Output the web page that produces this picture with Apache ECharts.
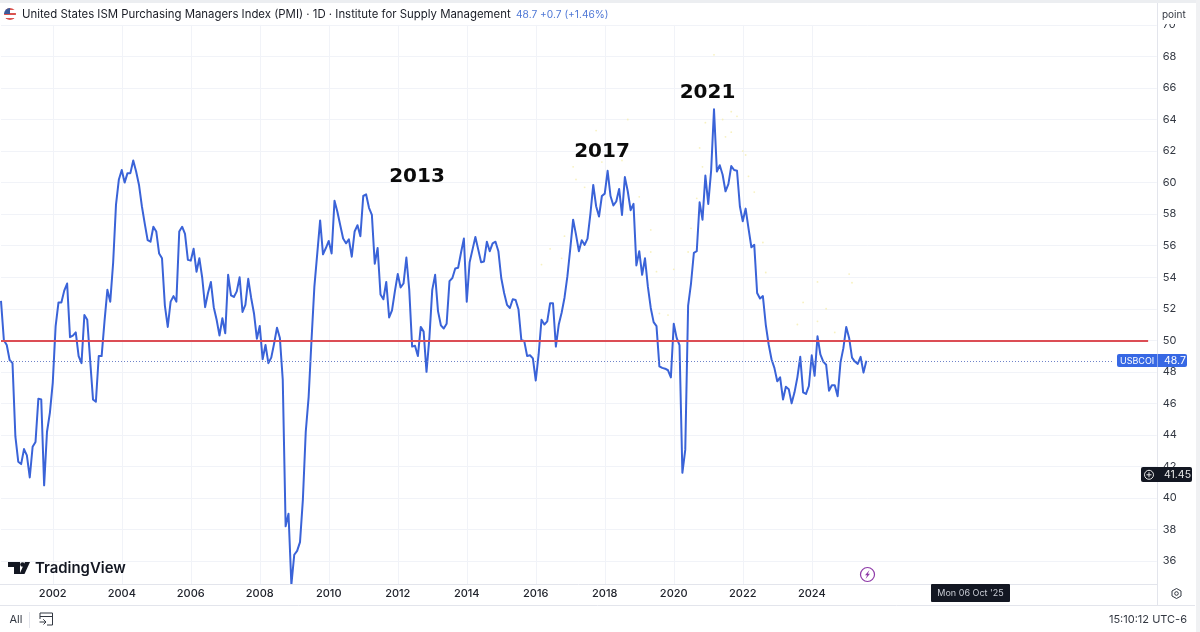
<!DOCTYPE html>
<html>
<head>
<meta charset="utf-8">
<title>United States ISM PMI</title>
<style>
  html, body { margin: 0; padding: 0; background: #fff; }
  #chart { width: 1200px; height: 632px; }
</style>
<script src="https://cdn.jsdelivr.net/npm/echarts@6/dist/echarts.min.js"></script>
</head>
<body>
<div id="chart"></div>
<script>
// monthly readings, first row starts Jul 2000
const pmiValues = [
  52.5, 50, 49.7, 48.75, 48.55, 43.9, 42.3, 42.15, 43.1, 42.7, 41.3, 43.25,
  43.55, 46.3, 46.25, 40.8, 44.2, 45.4, 47.3, 50.9, 52.4, 52.4, 53.15, 53.6,
  50.2, 50.3, 50.5, 49, 48.55, 51.6, 51.3, 48.75, 46.25, 46.1, 49, 49,
  51.2, 53.2, 52.45, 54.9, 58.6, 60.2, 60.8, 60, 60.6, 60.6, 61.4, 60.7,
  59.85, 58.5, 57.4, 56.35, 56.25, 57.2, 56.9, 55.5, 55.2, 52.2, 50.85, 52.45,
  52.8, 52.45, 56.9, 57.2, 56.75, 55.1, 55.05, 55.8, 54.35, 55.2, 53.95, 52.1,
  53, 53.7, 52.1, 51.3, 50.3, 51.4, 50.45, 54.15, 52.85, 52.75, 53.1, 54,
  51.8, 52.25, 53.9, 52.7, 51.7, 50.1, 50.9, 48.8, 49.7, 48.55, 48.9, 49.8,
  50.8, 50.15, 47.5, 38.2, 39, 34.5, 36.4, 36.65, 37.2, 39.9, 44.2, 46.4,
  50, 53.4, 55.5, 57.6, 55.45, 55.85, 56.3, 55.5, 58.85, 58.15, 57.3, 56.45,
  56.15, 56.4, 55.3, 56.9, 57.3, 56.6, 59.15, 59.25, 58.4, 57.95, 54.85, 55.85,
  52.9, 52.6, 53.7, 51.45, 51.9, 53.1, 54.2, 53.35, 53.6, 55.25, 53.2, 49.6,
  49.65, 49, 50.85, 50.55, 48, 50.15, 53.2, 54.15, 51.85, 50.95, 50.75, 51.05,
  53.75, 53.95, 54.55, 54.6, 55.55, 56.45, 52.45, 54.95, 55.75, 56.55, 55.75, 54.95,
  55, 56.25, 55.65, 56.15, 56.25, 55.65, 53.95, 53, 52.25, 52.05, 52.6, 52.55,
  51.95, 50, 49.95, 49, 49.05, 48.85, 47.45, 49.1, 51.3, 51, 51.2, 52.35,
  52.35, 49.6, 51, 51.75, 52.7, 54.05, 55.8, 57.65, 56.7, 55.65, 56.35, 56.05,
  56.45, 58, 59.85, 58.5, 57.85, 59.15, 59.3, 60.75, 59.15, 58.55, 58.8, 59.6,
  57.95, 60.35, 59.45, 58.25, 58.65, 54.75, 55.65, 54.15, 55.2, 53.4, 52.05, 51.15,
  50.9, 48.35, 48.25, 48.2, 48.1, 47.65, 51.05, 50.15, 49.7, 41.6, 43.05, 52.2,
  53.6, 55.55, 55.65, 58.75, 57.65, 60.45, 58.65, 60.75, 64.65, 60.7, 61.1, 60.5,
  59.45, 59.9, 61.05, 60.8, 60.75, 58.5, 57.55, 58.35, 57.1, 55.9, 56.05, 53,
  52.65, 52.8, 51, 49.75, 48.8, 48.25, 47.4, 47.65, 46.25, 47.05, 46.9, 46,
  46.7, 47.65, 48.95, 46.7, 46.6, 47.1, 49.05, 47.75, 50.25, 49.1, 48.65, 48.45,
  46.8, 47.15, 47.15, 46.45, 48.6, 49.5, 50.85, 50.15, 48.9, 48.65, 48.5, 48.95,
  47.95, 48.7
];

// faint pale dots around the peaks: [month index, value]
const faintDots = [
  [254, 64.5], [256, 64.2], [251, 64], [245, 63.8], [254, 63.2], [252, 62.9], [243, 62.2],
  [258, 62], [259, 61.75], [244, 61], [260, 60.4], [262, 59.4], [242, 59], [240, 57.1],
  [265, 56.2], [239, 55.6], [234, 54.5], [266, 54.3], [284, 53.7], [295, 54.2], [296, 53.65],
  [279, 52.4], [287, 52], [229, 51.7], [232, 51.6], [284, 51.2], [277, 51], [290, 50.5],
  [199, 61], [203, 59.7], [200, 60.2], [196, 56.6], [195, 55.2], [209, 61.3], [216, 61.4],
  [222, 59.1], [226, 57], [226, 55.6], [228, 54.35], [248, 68.1], [207, 63.3], [218, 64],
  [188, 54.8], [191, 55.8]
];

const referenceLevel = 50;
const lastValue = 48.7;
const lastMonthIndex = 399; // red level line stops here
const priceLineEnd = 387;   // dotted line stops at the USBCOI tag

const yTicks = { min: 34, max: 70, interval: 2 };
const totalMonths = 403;    // axis runs on past the last reading
const lastLabelYear = 2024;

const annotations = [
  { text: '2013', x: 417, y: 177 },
  { text: '2017', x: 602, y: 152 },
  { text: '2021', x: 707.5, y: 93 }
];

const titleText = 'United States ISM Purchasing Managers Index (PMI) · 1D · Institute for Supply Management';
const quoteText = '48.7 +0.7 (+1.46%)';

function buildMonths() {
  const out = [];
  let y = 2000, m = 7;
  for (let i = 0; i < totalMonths; i++) {
    out.push(y + '-' + String(m).padStart(2, '0'));
    m++;
    if (m > 12) { m = 1; y++; }
  }
  return out;
}

const months = buildMonths();
const FONT = 'Inter, "Liberation Sans", sans-serif';

function isEvenYearStart(idx, label) {
  const parts = label.split('-');
  const year = Number(parts[0]);
  return parts[1] === '01' && year % 2 === 0 && year <= lastLabelYear;
}

function chromeText(text, x, y, size, color, extra) {
  return {
    type: 'text',
    z: 20,
    silent: true,
    style: Object.assign({
      text, x, y,
      fontSize: size,
      fontFamily: FONT,
      fill: color,
      verticalAlign: 'middle'
    }, extra || {})
  };
}

function chromeRect(x, y, width, height, fill, z, r) {
  return { type: 'rect', z: z || 5, silent: true, shape: { x, y, width, height, r: r || 0 }, style: { fill } };
}

function hLine(y, x1, x2, color) {
  return { type: 'line', z: 6, silent: true, shape: { x1, y1: y, x2, y2: y }, style: { stroke: color || '#e3e5ec', lineWidth: 1 } };
}

function hLineWhite(y, x1, x2) {
  return { type: 'line', z: 9, silent: true, shape: { x1, y1: y, x2, y2: y }, style: { stroke: '#e8e8e8', lineWidth: 1 } };
}

function buildGraphics() {
  const g = [];

  // covers the part of the plot below the time axis line
  g.push(chromeRect(0, 584.5, 1200, 48, '#ffffff', 5));
  g.push(hLine(584.5, 0, 1157));
  g.push(hLine(605.5, 0, 1195));
  g.push({ type: 'line', z: 6, silent: true, shape: { x1: 1157.5, y1: 3, x2: 1157.5, y2: 605 }, style: { stroke: '#e3e5ec', lineWidth: 1 } });
  g.push(chromeRect(0, 0, 1200, 3, '#eceef1', 6));
  g.push(chromeRect(1196, 0, 4, 632, '#f0f1f3', 6));

  // header
  g.push(chromeRect(0, 3, 1157, 21, '#ffffff', 5));
  g.push({
    type: 'circle', z: 20, silent: true,
    shape: { cx: 10, cy: 14, r: 6 },
    style: {
      fill: {
        type: 'linear', x: 0, y: 0, x2: 0, y2: 1,
        colorStops: [
          { offset: 0, color: '#d9534f' }, { offset: 0.2, color: '#d9534f' },
          { offset: 0.2, color: '#ffffff' }, { offset: 0.4, color: '#ffffff' },
          { offset: 0.4, color: '#d9534f' }, { offset: 0.6, color: '#d9534f' },
          { offset: 0.6, color: '#ffffff' }, { offset: 0.8, color: '#ffffff' },
          { offset: 0.8, color: '#d9534f' }, { offset: 1, color: '#d9534f' }
        ]
      }
    }
  });
  g.push({ type: 'sector', z: 21, silent: true, shape: { cx: 10, cy: 14, r: 6, r0: 0, startAngle: Math.PI, endAngle: Math.PI * 1.5 }, style: { fill: '#3c5a9a' } });
  g.push(chromeText(titleText, 22, 14.5, 11.4, '#1a1d26'));
  g.push(chromeText(quoteText, 516, 14.5, 10.2, '#4f78d6'));

  // "point" scale button
  g.push(chromeRect(1158, 3, 38, 21, '#ffffff', 6));
  g.push(chromeText('point', 1162, 14.5, 10, '#333842'));

  // watermark
  g.push({ type: 'polygon', z: 20, silent: true, shape: { points: [[8, 562], [20, 562], [20, 574], [14, 574], [14, 567], [8, 567]] }, style: { fill: '#131722' } });
  g.push({ type: 'circle', z: 20, silent: true, shape: { cx: 22.5, cy: 564.5, r: 2.3 }, style: { fill: '#131722' } });
  g.push({ type: 'polygon', z: 20, silent: true, shape: { points: [[25, 562], [30, 562], [24.5, 574], [19.5, 574]] }, style: { fill: '#131722' } });
  g.push(chromeText('TradingView', 35, 568.5, 14.9, '#131722', { fontWeight: 600 }));

  // annotations over the chart
  annotations.forEach(a => {
    g.push(chromeText(a.text, a.x, a.y, 20, '#0b0b0b', { fontWeight: 700, align: 'center', fontFamily: '"DejaVu Sans", sans-serif' }));
  });

  // last value tag
  g.push(chromeRect(1117, 354, 70, 13, '#3768e4', 8, 2));
  g.push({ type: 'line', z: 9, silent: true, shape: { x1: 1157.5, y1: 354, x2: 1157.5, y2: 367 }, style: { stroke: '#8fa9ee', lineWidth: 1 } });
  g.push(chromeText('USBCOI', 1120, 360.8, 9, '#ffffff'));
  g.push(chromeText('48.7', 1164, 360.8, 10.5, '#ffffff'));

  // crosshair price tag
  g.push(chromeRect(1141, 467, 51, 15, '#131722', 8, 2));
  g.push({ type: 'circle', z: 9, silent: true, shape: { cx: 1149, cy: 474.8, r: 4.5 }, style: { fill: 'none', stroke: '#e8e8e8', lineWidth: 1 } });
  g.push(hLineWhite(474.8, 1146.5, 1151.5));
  g.push({ type: 'line', z: 9, silent: true, shape: { x1: 1149, y1: 472.3, x2: 1149, y2: 477.3 }, style: { stroke: '#e8e8e8', lineWidth: 1 } });
  g.push(chromeText('41.45', 1164, 475, 10.5, '#e8e8e8'));

  // crosshair date tag
  g.push(chromeRect(931, 584, 79, 18, '#131722', 8, 1));
  g.push(chromeText("Mon 06 Oct '25", 970.5, 593.5, 9, '#c9ccd4', { align: 'center' }));

  // lightning marker
  g.push({ type: 'circle', z: 9, silent: true, shape: { cx: 867.5, cy: 574.5, r: 7 }, style: { fill: '#fff', stroke: '#8e3aa8', lineWidth: 1.2 } });
  g.push({ type: 'polygon', z: 10, silent: true, shape: { points: [[869.5, 570], [865, 575.2], [867.2, 575.2], [865.5, 579], [870, 573.8], [867.8, 573.8]] }, style: { fill: '#8e3aa8' } });

  // settings button
  g.push({ type: 'polygon', z: 9, silent: true, shape: { points: [[1176.5, 588.5], [1181, 591], [1181, 596], [1176.5, 598.5], [1172, 596], [1172, 591]] }, style: { fill: 'none', stroke: '#333842', lineWidth: 1 } });
  g.push({ type: 'circle', z: 9, silent: true, shape: { cx: 1176.5, cy: 593.5, r: 1.8 }, style: { fill: 'none', stroke: '#333842', lineWidth: 1 } });

  // bottom toolbar
  g.push(chromeText('All', 9.5, 620, 11, '#333842'));
  g.push({ type: 'line', z: 9, silent: true, shape: { x1: 29.5, y1: 612, x2: 29.5, y2: 628 }, style: { stroke: '#e3e5ec', lineWidth: 1 } });
  g.push({ type: 'polyline', z: 9, silent: true, shape: { points: [[40, 619], [40, 613], [52.5, 613], [52.5, 625], [47, 625]] }, style: { fill: 'none', stroke: '#333842', lineWidth: 1 } });
  g.push({ type: 'line', z: 9, silent: true, shape: { x1: 40, y1: 616.5, x2: 52.5, y2: 616.5 }, style: { stroke: '#333842', lineWidth: 1 } });
  g.push({ type: 'polyline', z: 9, silent: true, shape: { points: [[39.5, 622], [46, 622], [43.5, 619.5], [46, 622], [43.5, 624.5]] }, style: { fill: 'none', stroke: '#333842', lineWidth: 1 } });
  g.push(chromeText('15:10:12 UTC-6', 1187, 620, 11, '#333842', { align: 'right' }));

  return g;
}

const chart = echarts.init(document.getElementById('chart'), null, { renderer: 'canvas' });

chart.setOption({
  animation: false,
  backgroundColor: '#ffffff',
  graphic: { elements: buildGraphics() },
  grid: [
    { left: 1, top: 24.9, width: 1155.75, height: 567.7 },
    { left: 1, top: 586, width: 1155.75, height: 1 }
  ],
  xAxis: [
    {
      type: 'category',
      gridIndex: 0,
      data: months,
      boundaryGap: false,
      axisLine: { show: false },
      axisTick: { show: false },
      axisLabel: { show: false },
      splitLine: { show: true, interval: isEvenYearStart, lineStyle: { color: '#f1f3f8', width: 1 } }
    },
    {
      type: 'category',
      gridIndex: 1,
      z: 10,
      data: months,
      boundaryGap: false,
      axisLine: { show: false },
      axisTick: { show: false },
      splitLine: { show: false },
      axisLabel: {
        interval: isEvenYearStart,
        margin: 1,
        fontSize: 11,
        fontWeight: 500,
        fontFamily: FONT,
        color: '#20232c',
        formatter: v => v.slice(0, 4)
      }
    }
  ],
  yAxis: [
    {
      type: 'value',
      gridIndex: 0,
      position: 'right',
      min: yTicks.min,
      max: yTicks.max,
      interval: yTicks.interval,
      axisLine: { show: false },
      axisTick: { show: false },
      axisLabel: {
        margin: 6,
        fontSize: 11,
        fontFamily: FONT,
        color: '#333842',
        formatter: v => (v === yTicks.min ? '' : String(v))
      },
      splitLine: { lineStyle: { color: '#f1f3f8', width: 1 } }
    },
    { type: 'value', gridIndex: 1, show: false }
  ],
  series: [
    {
      name: 'faint',
      type: 'scatter',
      data: faintDots,
      symbolSize: 1.8,
      silent: true,
      itemStyle: { color: '#f5eeb0' },
      z: 1
    },
    {
      name: 'USBCOI',
      type: 'line',
      data: pmiValues,
      showSymbol: false,
      symbol: 'none',
      lineStyle: { color: '#3a63d8', width: 2, join: 'round' },
      z: 3,
      markLine: {
        silent: true,
        symbol: 'none',
        label: { show: false },
        animation: false,
        data: [
          [
            { coord: [0, referenceLevel], lineStyle: { color: '#dc4d55', width: 1.8, type: 'solid' } },
            { coord: [lastMonthIndex, referenceLevel] }
          ],
          [
            { coord: [0, lastValue], lineStyle: { color: '#6f83c9', width: 1, type: [1, 2] } },
            { coord: [priceLineEnd, lastValue] }
          ]
        ]
      }
    }
  ]
});
</script>
</body>
</html>
